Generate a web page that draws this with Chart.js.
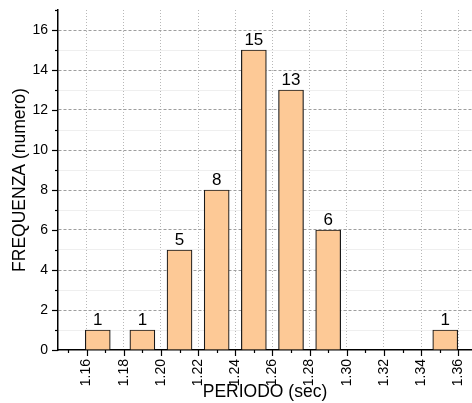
<!DOCTYPE html>
<html>
<head>
<meta charset="utf-8">
<script src="https://cdn.jsdelivr.net/npm/chart.js@4.4.1/dist/chart.umd.min.js"></script>
<style>
  html, body { margin: 0; padding: 0; background: #fff; }
  #wrap { width: 472px; height: 403px; }
</style>
</head>
<body>
<div id="wrap"><canvas id="c" width="472" height="403"></canvas></div>
<script>
// ---- data ----
const binCenters = [1.166, 1.19, 1.21, 1.23, 1.25, 1.27, 1.29, 1.353];
const counts = [1, 1, 5, 8, 15, 13, 6, 1];
const xTickLabels = ['1.16', '1.18', '1.20', '1.22', '1.24', '1.26', '1.28', '1.30', '1.32', '1.34', '1.36'];
const yTickLabels = ['0', '2', '4', '6', '8', '10', '12', '14', '16'];
const xTitle = 'PERIODO (sec)';
const yTitle = 'FREQUENZA (numero)';

const FONT = 'Arial, "Liberation Sans", sans-serif';
Chart.defaults.font.family = FONT;
Chart.defaults.color = '#000';

function hund(v) { return Math.round(v * 100); }
function xLabelFor(v) {
  const found = xTickLabels.find(l => hund(parseFloat(l)) === hund(v));
  return found || '';
}
function yLabelFor(v) {
  const found = yTickLabels.find(l => Math.round(parseFloat(l)) === Math.round(v));
  return found || '';
}

const tickPlugin = {
  id: 'originTicks',
  afterDraw(chart) {
    const ctx = chart.ctx;
    const xs = chart.scales.x, ys = chart.scales.y;
    const area = chart.chartArea;
    ctx.save();
    ctx.strokeStyle = '#000';
    ctx.lineWidth = 1.2;
    ys.ticks.forEach(t => {
      const y = Math.round(ys.getPixelForValue(t.value)) + 0.5;
      const len = (Math.round(t.value) % 2 === 0) ? 6 : 3;
      ctx.beginPath();
      ctx.moveTo(area.left - len, y);
      ctx.lineTo(area.left, y);
      ctx.stroke();
    });
    xs.ticks.forEach(t => {
      const x = Math.round(xs.getPixelForValue(t.value)) + 0.5;
      const len = (hund(t.value) % 2 === 0) ? 6 : 3;
      ctx.beginPath();
      ctx.moveTo(x, area.bottom);
      ctx.lineTo(x, area.bottom + len);
      ctx.stroke();
    });
    ctx.restore();
  }
};

const valueLabelPlugin = {
  id: 'valueLabels',
  afterDatasetsDraw(chart) {
    const ctx = chart.ctx;
    const meta = chart.getDatasetMeta(0);
    ctx.save();
    ctx.font = '17px ' + FONT;
    ctx.fillStyle = '#000';
    ctx.textAlign = 'center';
    ctx.textBaseline = 'alphabetic';
    meta.data.forEach((el, i) => {
      ctx.fillText(String(counts[i]), el.x, el.y - 5);
    });
    ctx.restore();
  }
};

new Chart(document.getElementById('c'), {
  type: 'bar',
  data: {
    datasets: [{
      data: binCenters.map((x, i) => ({ x: x, y: counts[i] })),
      backgroundColor: '#FDC996',
      borderColor: '#1a1a1a',
      borderWidth: 1.2,
      barThickness: 25
    }]
  },
  options: {
    responsive: false,
    animation: false,
    devicePixelRatio: 1,
    layout: { padding: { top: 10, right: 0, bottom: 0, left: 0 } },
    plugins: { legend: { display: false }, tooltip: { enabled: false } },
    scales: {
      x: {
        type: 'linear',
        offset: false,
        min: 1.1446,
        max: 1.3674,
        grid: {
          offset: false,
          drawTicks: false,
          color: c => (c.tick && hund(c.tick.value) % 2 === 0) ? '#b8b8b8' : 'rgba(0,0,0,0)',
          lineWidth: 1
        },
        border: {
          display: true, color: '#000', width: 1.5,
          dash: c => c.tick ? [1, 2] : []
        },
        ticks: {
          stepSize: 0.01,
          includeBounds: false,
          autoSkip: false,
          minRotation: 90,
          maxRotation: 90,
          padding: 9,
          font: { size: 14 },
          callback: v => xLabelFor(v)
        },
        title: {
          display: true,
          text: xTitle,
          font: { size: 17.5 },
          padding: { top: 0, bottom: 0 }
        },
        afterFit: s => { s.height = 53; s.paddingLeft = 0; s.paddingRight = 0; }
      },
      y: {
        type: 'linear',
        min: 0,
        max: 17,
        grid: {
          drawTicks: false,
          color: c => {
            if (!c.tick) return 'rgba(0,0,0,0)';
            const v = Math.round(c.tick.value);
            if (v === 0 || v === 17) return 'rgba(0,0,0,0)';
            return v % 2 === 0 ? '#9e9e9e' : '#dedede';
          },
          lineWidth: 1
        },
        border: {
          display: true, color: '#000', width: 1.5,
          dash: c => {
            if (!c.tick) return [];
            return Math.round(c.tick.value) % 2 === 0 ? [3, 2] : [1, 1];
          }
        },
        ticks: {
          stepSize: 1,
          autoSkip: false,
          padding: 10,
          font: { size: 14 },
          callback: v => yLabelFor(v)
        },
        title: {
          display: true,
          text: yTitle,
          font: { size: 17.5 },
          padding: { top: 10, bottom: 0 }
        },
        afterFit: s => { s.width = 58; s.paddingTop = 0; s.paddingBottom = 0; }
      }
    }
  },
  plugins: [tickPlugin, valueLabelPlugin]
});
</script>
</body>
</html>
